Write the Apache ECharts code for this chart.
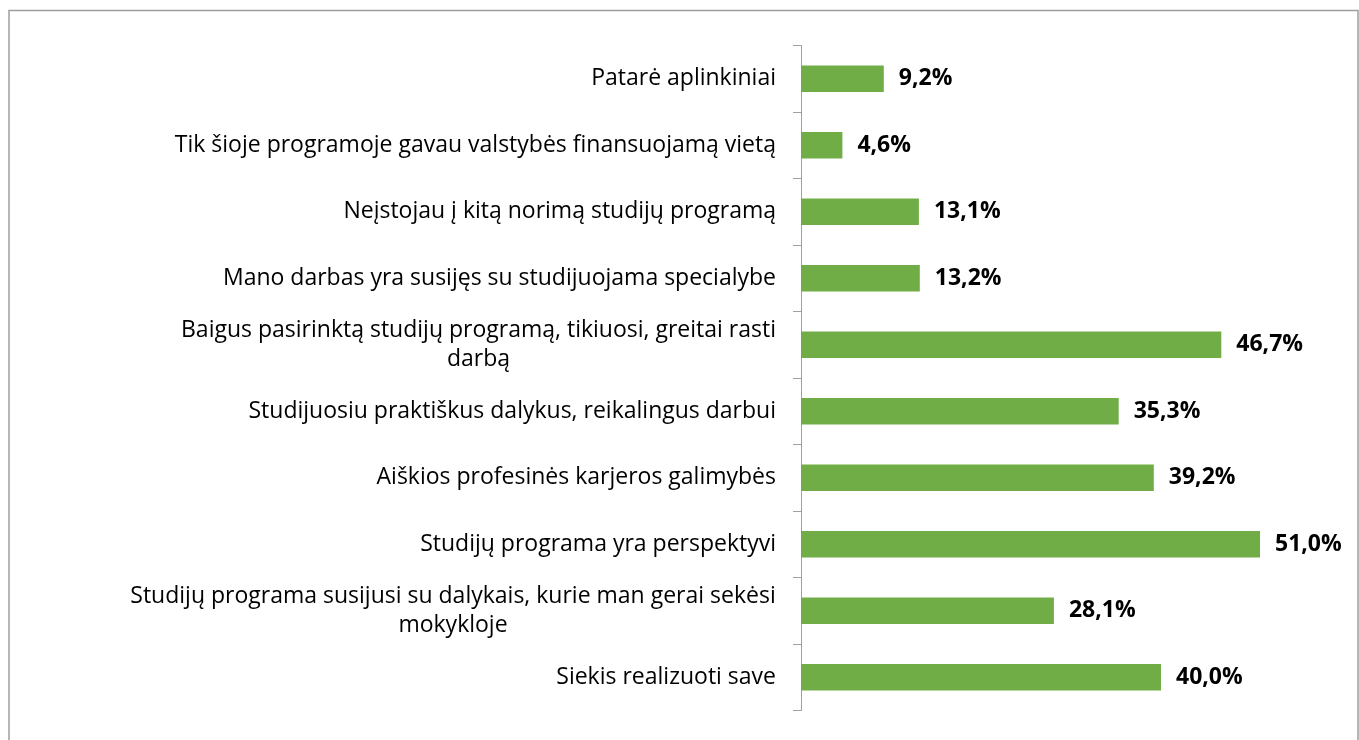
<!DOCTYPE html>
<html>
<head>
<meta charset="utf-8">
<script src="https://cdn.jsdelivr.net/npm/echarts@6/dist/echarts.min.js"></script>
<style>
  html, body { margin: 0; padding: 0; background: #fff; }
  #chart { width: 1359px; height: 740px; }
</style>
</head>
<body>
<div id="chart"></div>
<script>
// categories, top to bottom
var categories = [
  'Patarė aplinkiniai',
  'Tik šioje programoje gavau valstybės finansuojamą vietą',
  'Neįstojau į kitą norimą studijų programą',
  'Mano darbas yra susijęs su studijuojama specialybe',
  'Baigus pasirinktą studijų programą, tikiuosi, greitai rasti\ndarbą',
  'Studijuosiu praktiškus dalykus, reikalingus darbui',
  'Aiškios profesinės karjeros galimybės',
  'Studijų programa yra perspektyvi',
  'Studijų programa susijusi su dalykais, kurie man gerai sekėsi\nmokykloje',
  'Siekis realizuoti save'
];
// percent values
var values = [9.2, 4.6, 13.1, 13.2, 46.7, 35.3, 39.2, 51.0, 28.1, 40.0];

var font = "'Open Sans', 'Noto Sans', sans-serif";
var labelSize = 23;
var myChart = echarts.init(document.getElementById('chart'));

function fmtPct(v) {
  return v.toFixed(1).replace('.', ',') + '%';
}

// wrapped labels: every line gets a box as wide as the longest one, text centred in it
var ctx = document.createElement('canvas').getContext('2d');
ctx.font = labelSize + 'px ' + font;
var rich = {};
categories.forEach(function(c, i) {
  var lines = c.split('\n');
  if (lines.length < 2) {
    return;
  }
  var w = 0;
  lines.forEach(function(s) {
    w = Math.max(w, ctx.measureText(s).width);
  });
  rich['l' + i] = {
    width: Math.ceil(w),
    align: 'center',
    color: '#000',
    fontFamily: font,
    fontSize: labelSize,
    lineHeight: 29
  };
});

var option = {
  backgroundColor: '#ffffff',
  animation: false,
  graphic: [
    {
      type: 'rect',
      silent: true,
      shape: { x: 9, y: 10.5, width: 1349, height: 800 },
      style: { fill: 'none', stroke: '#9e9e9e', lineWidth: 1.5 }
    }
  ],
  grid: {
    left: 801,
    top: 45.5,
    width: 540,
    height: 665
  },
  xAxis: {
    type: 'value',
    min: 0,
    max: 60,
    show: false
  },
  yAxis: {
    type: 'category',
    inverse: true,
    data: categories,
    axisLine: { show: true, lineStyle: { color: '#a0a0a0', width: 1 } },
    axisTick: { show: true, length: 8, lineStyle: { color: '#a0a0a0' } },
    splitLine: { show: false },
    axisLabel: {
      margin: 25,
      color: '#000',
      fontFamily: font,
      fontSize: labelSize,
      lineHeight: 29,
      formatter: function(value, index) {
        var lines = value.split('\n');
        if (lines.length < 2) {
          return value;
        }
        return lines.map(function(s) {
          return '{l' + index + '|' + s + '}';
        }).join('\n');
      },
      rich: rich
    }
  },
  series: [
    {
      type: 'bar',
      data: values,
      barWidth: '40%',
      itemStyle: { color: '#70ad47' },
      label: {
        show: true,
        position: 'right',
        distance: 15,
        color: '#000',
        fontFamily: font,
        fontWeight: 'bold',
        fontSize: 23,
        formatter: function(p) {
          return fmtPct(p.value);
        }
      }
    }
  ]
};

myChart.setOption(option);
</script>
</body>
</html>
